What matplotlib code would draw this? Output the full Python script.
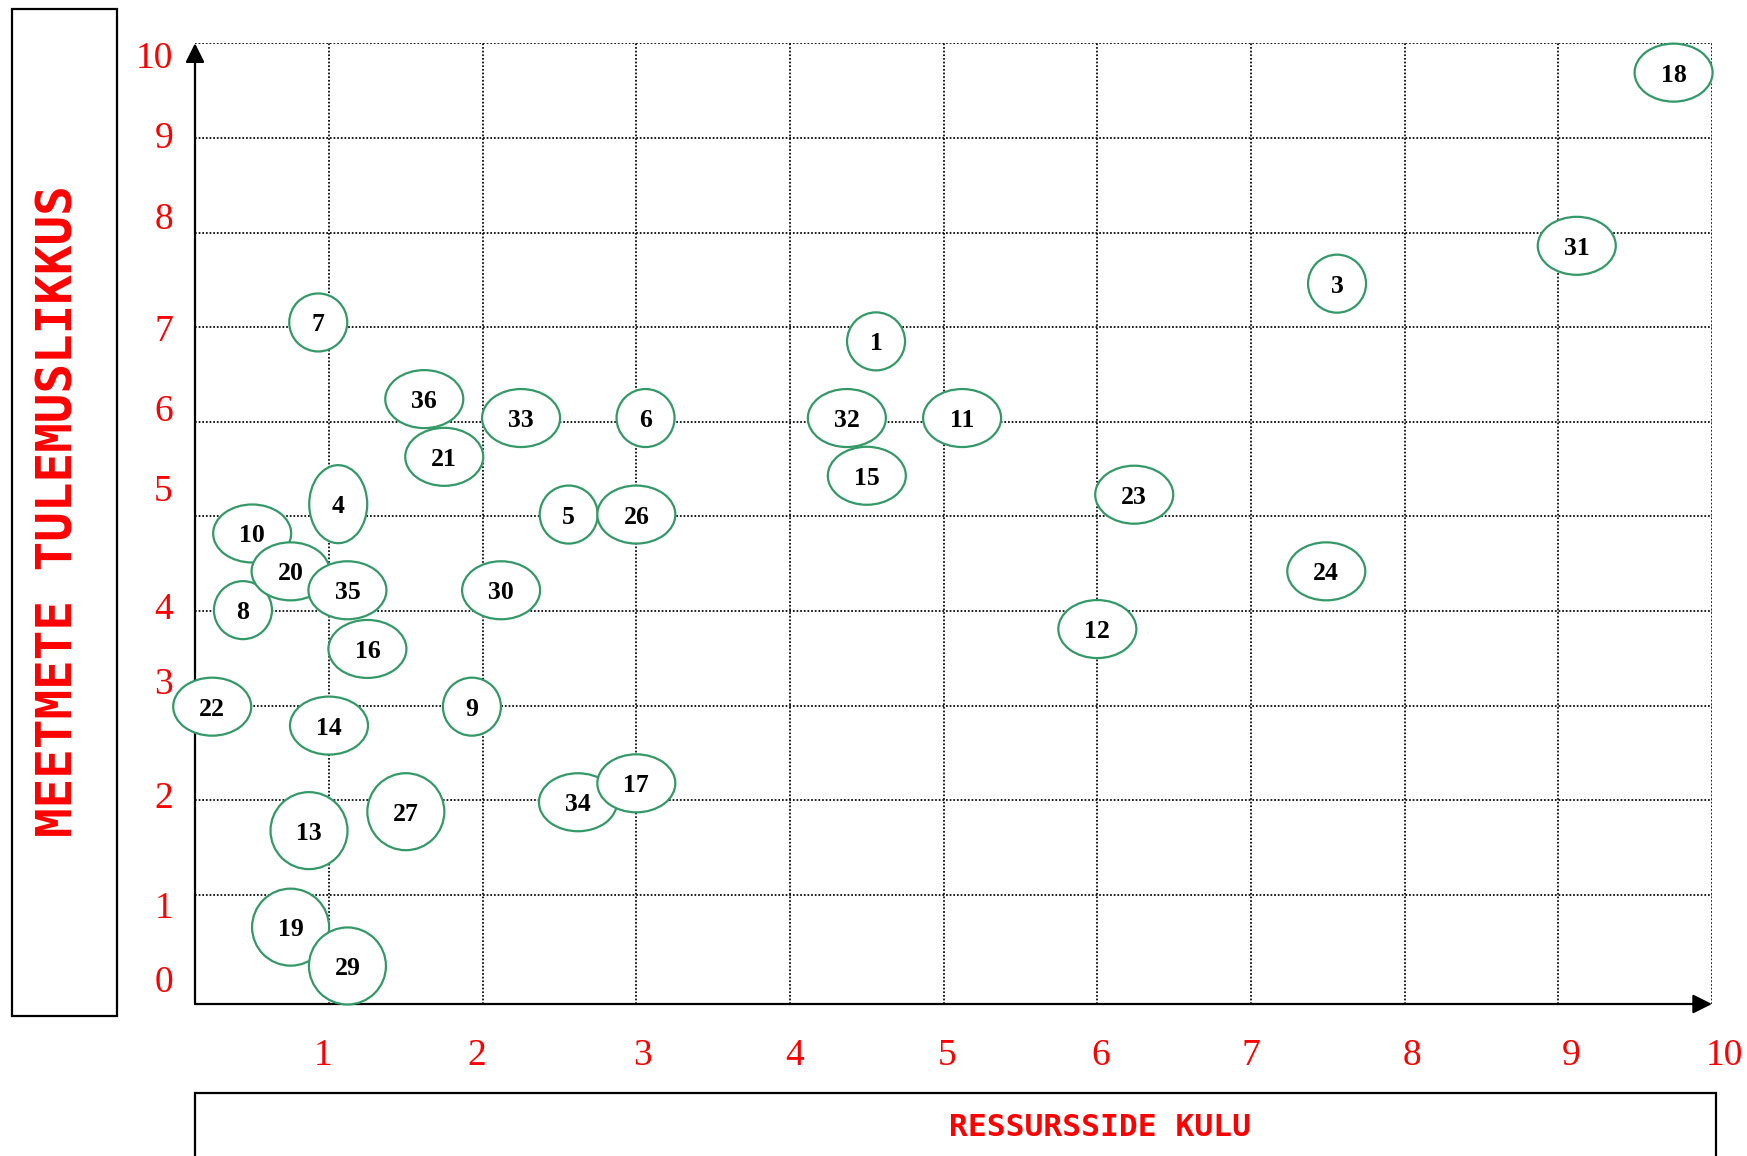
import matplotlib
matplotlib.use("Agg")
import matplotlib.pyplot as plt
from matplotlib.patches import Ellipse, Rectangle

# item numbers, position on the grid, and shape of the bubble
ids = [1, 3, 4, 5, 6, 7, 8, 9, 10, 11, 12, 13, 14, 15, 16, 18, 19, 20, 21,
       22, 23, 24, 26, 27, 29, 30, 31, 32, 33, 34, 17, 35, 36]
kulu = [4.56, 7.56, 1.06, 2.56, 3.06, 0.93, 0.44, 1.93, 0.50, 5.12, 6.00, 0.87,
        1.00, 4.50, 1.25, 9.75, 0.75, 0.75, 1.75, 0.24, 6.24, 7.49, 3.00, 1.50,
        1.12, 2.12, 9.12, 4.37, 2.25, 2.62, 3.00, 1.12, 1.62]
tulemus = [6.85, 7.46, 5.13, 5.02, 6.04, 7.05, 4.01, 2.99, 4.82, 6.04, 3.81, 1.68,
           2.79, 5.43, 3.60, 9.69, 0.66, 4.42, 5.63, 2.99, 5.23, 4.42, 5.02, 1.88,
           0.25, 4.22, 7.86, 6.04, 6.04, 1.98, 2.18, 4.22, 6.24]
kuju = ['c', 'c', 'v', 'c', 'c', 'c', 'c', 'c', 'e', 'e', 'e', 'b', 'e', 'e', 'e',
        'e', 'b', 'e', 'e', 'e', 'e', 'e', 'e', 'b', 'b', 'e', 'e', 'e', 'e', 'e',
        'e', 'e', 'e']

x_labels = ['1', '2', '3', '4', '5', '6', '7', '8', '9', '10']
y_labels = ['0', '1', '2', '3', '4', '5', '6', '7', '8', '9', '10']

# label positions (they don't sit on the grid lines in the original)
x_label_pos = [0.96, 1.96, 3.04, 4.03, 5.02, 6.02, 7.00, 8.05, 9.08, 10.08]
y_label_pos = [0.12, 0.90, 2.06, 3.26, 4.06, 5.30, 6.15, 6.99, 8.18, 9.03, 9.88]

# bubble sizes in pixels (w, h)
sizes = {'c': (58, 58), 'e': (78, 58), 'v': (58, 78), 'b': (77, 77)}

W, H = 1747, 1156
fig = plt.figure(figsize=(W / 100, H / 100), dpi=100)

x0, x1 = 0.128, 10.0
y0, y1 = -0.152, 10.0
ax_l, ax_r, ax_t, ax_b = 195, 1712, 43.3, 1004
ax = fig.add_axes([ax_l / W, 1 - ax_b / H, (ax_r - ax_l) / W, (ax_b - ax_t) / H])
ax.set_xlim(x0, x1)
ax.set_ylim(y0, y1)
for s in ax.spines.values():
    s.set_visible(False)

# dotted grid
ax.set_xticks(range(1, 11))
ax.set_yticks(range(1, 11))
ax.tick_params(length=0, labelbottom=False, labelleft=False)
ax.grid(True, color='black', linestyle=(0, (1, 1.1)), linewidth=1.25)
ax.set_axisbelow(True)

# axes with arrows
arrow = dict(arrowstyle='-|>', mutation_scale=29, lw=1.6, color='black',
             shrinkA=0, shrinkB=0)
ax.annotate('', xy=(x1, y0), xytext=(x0, y0), arrowprops=arrow,
            annotation_clip=False, zorder=3)
ax.annotate('', xy=(x0, y1), xytext=(x0, y0), arrowprops=arrow,
            annotation_clip=False, zorder=3)

ppx = (ax_r - ax_l) / (x1 - x0)
ppy = (ax_b - ax_t) / (y1 - y0)

for n, x, y, k in zip(ids, kulu, tulemus, kuju):
    w, h = sizes[k]
    e = Ellipse((x, y), w / ppx, h / ppy, facecolor='white',
                edgecolor='#339966', lw=1.6, zorder=4, clip_on=False)
    ax.add_patch(e)
    ax.text(x, y, str(n), ha='center', va='center_baseline', fontsize=18.5,
            fontweight='bold', family='Liberation Serif', color='black',
            zorder=5)

# tick labels
for lab, p in zip(x_labels, x_label_pos):
    ax.text(p, y0 - 48 / ppy, lab, ha='center', va='center_baseline',
            fontsize=27, family='Liberation Serif', color='red', clip_on=False)
for lab, p in zip(y_labels, y_label_pos):
    ax.text(x0 - 22 / ppx, p, lab, ha='right', va='center_baseline',
            fontsize=27, family='Liberation Serif', color='red', clip_on=False)

# framed axis titles
fig.add_artist(Rectangle((11.7 / W, 1 - 1015.6 / H), 105.6 / W, 1006.3 / H,
                         transform=fig.transFigure, fill=False, lw=1.6,
                         edgecolor='black'))
fig.add_artist(Rectangle((195 / W, -0.05), 1521 / W, 0.05 + 1 - 1093 / H,
                         transform=fig.transFigure, fill=False, lw=1.6,
                         edgecolor='black'))

fig.text(59 / W, 1 - 511 / H, 'MEETMETE TULEMUSLIKKUS', rotation=90,
         ha='center', va='center', fontsize=35.5, fontweight='bold',
         family='DejaVu Sans Mono', color='red')
fig.text(1100 / W, 1 - 1127 / H, 'RESSURSSIDE KULU', ha='center', va='center',
         fontsize=22.5, fontweight='bold', family='DejaVu Sans Mono', color='red')

fig.savefig('out.png', dpi=100)
